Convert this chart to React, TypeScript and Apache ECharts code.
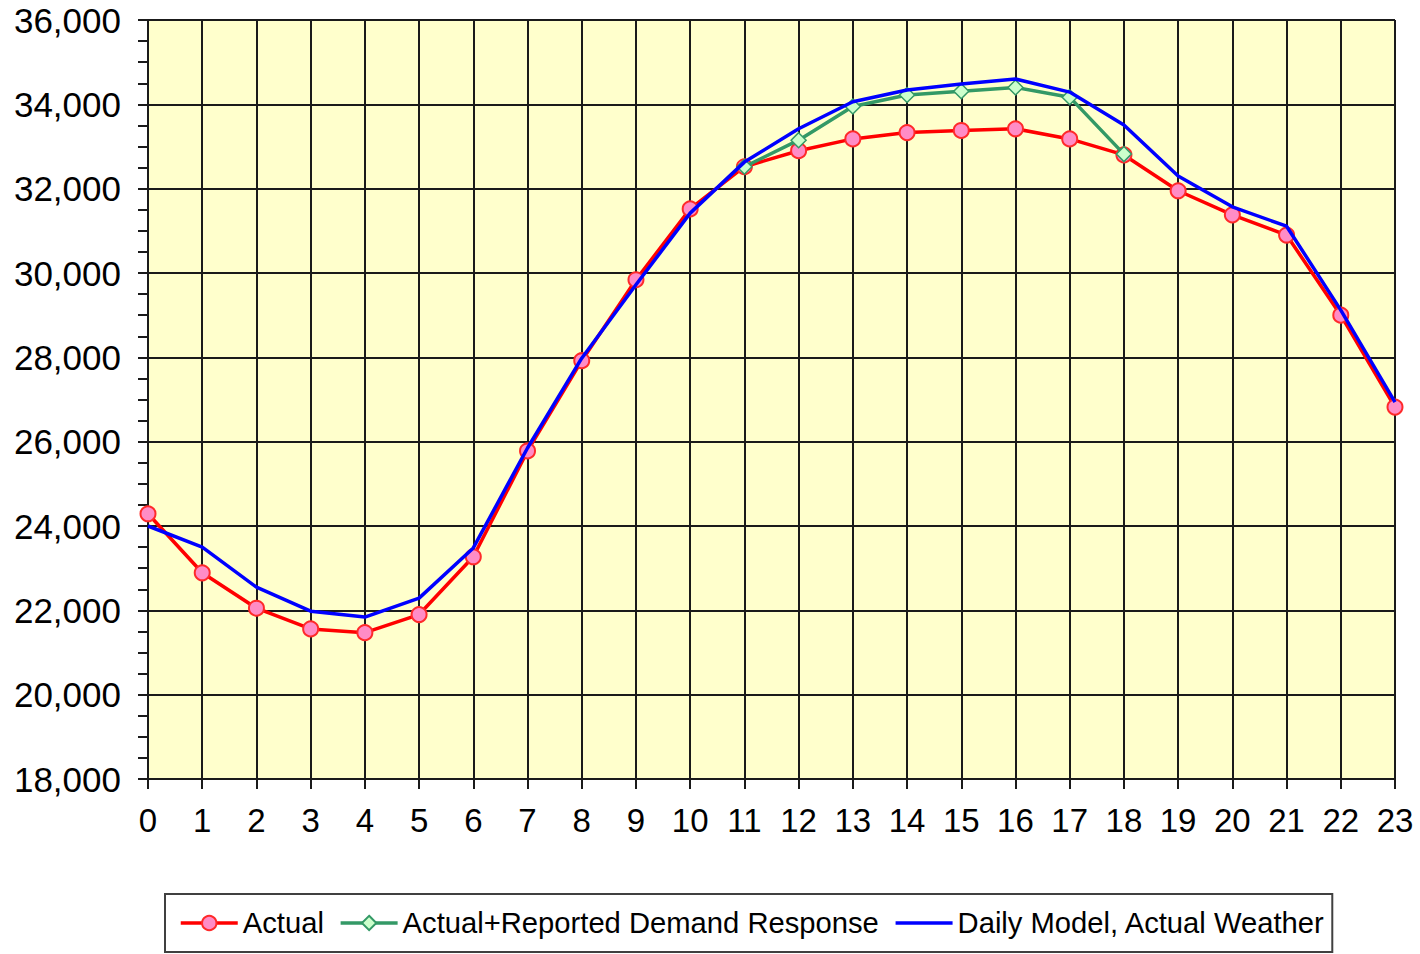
import React, { useEffect, useRef } from "react";
import * as echarts from "echarts";

const hours = ["0", "1", "2", "3", "4", "5", "6", "7", "8", "9", "10", "11", "12", "13", "14", "15", "16", "17", "18", "19", "20", "21", "22", "23"];

const actual = [24290, 22890, 22050, 21560, 21470, 21900, 23270, 25780, 27920, 29840, 31520, 32520, 32900, 33180, 33330, 33380, 33420, 33180, 32800, 31950, 31380, 30900, 29000, 26820];

const actualPlusDR = [null, null, null, null, null, null, null, null, null, null, null, 32520, 33150, 33950, 34220, 34310, 34400, 34170, 32820, null, null, null, null, null];

const dailyModel = [24000, 23500, 22550, 21980, 21840, 22290, 23480, 25850, 27980, 29720, 31420, 32630, 33420, 34060, 34340, 34480, 34600, 34290, 33510, 32300, 31570, 31110, 29120, 26940];

const seriesNames = ["Actual", "Actual+Reported Demand Response", "Daily Model, Actual Weather"];

const FONT = "'Liberation Sans', Arial, sans-serif";

export default function App() {
  const ref = useRef<HTMLDivElement>(null);

  useEffect(() => {
    document.body.style.margin = "0";
    const chart = echarts.init(ref.current!, null, { renderer: "svg" });
    chart.setOption({
      animation: false,
      backgroundColor: "#ffffff",
      textStyle: { fontFamily: FONT, color: "#000" },
      grid: {
        left: 148,
        right: 25,
        top: 20,
        bottom: 175,
        show: true,
        backgroundColor: "#FFFFCC",
        borderWidth: 0,
      },
      legend: {
        left: 165,
        top: 894,
        padding: [14, 7, 14, 14],
        itemGap: 15,
        itemWidth: 57,
        itemHeight: 18,
        borderColor: "#404040",
        borderWidth: 2,
        backgroundColor: "#ffffff",
        lineStyle: { width: 3.5 },
        textStyle: { fontSize: 29.2, fontFamily: FONT, color: "#000", lineHeight: 30 },
        data: [
          { name: seriesNames[0] },
          { name: seriesNames[1] },
          { name: seriesNames[2], itemStyle: { color: "rgba(0,0,0,0)", borderWidth: 0, opacity: 0 } },
        ],
      },
      xAxis: {
        type: "category",
        data: hours,
        boundaryGap: false,
        axisLine: { lineStyle: { color: "#1a1a1a", width: 2 } },
        axisTick: { show: true, length: 10, interval: 0, lineStyle: { color: "#1a1a1a", width: 2 } },
        axisLabel: { interval: 0, fontSize: 33, fontFamily: FONT, color: "#000", margin: 25 },
        splitLine: { show: true, interval: 0, lineStyle: { color: "#1a1a1a", width: 2 } },
      },
      yAxis: {
        type: "value",
        min: 18000,
        max: 36000,
        interval: 2000,
        axisLine: { show: true, lineStyle: { color: "#1a1a1a", width: 2 } },
        axisTick: { show: true, length: 10, lineStyle: { color: "#1a1a1a", width: 2 } },
        minorTick: { show: true, splitNumber: 4, length: 10, lineStyle: { color: "#1a1a1a", width: 2 } },
        axisLabel: {
          fontSize: 35,
          fontFamily: FONT,
          color: "#000",
          margin: 27,
          formatter: (v: number) => v.toLocaleString("en-US"),
        },
        splitLine: { show: true, lineStyle: { color: "#1a1a1a", width: 2 } },
      },
      series: [
        {
          name: seriesNames[0],
          type: "line",
          data: actual,
          symbol: "circle",
          symbolSize: 15,
          showAllSymbol: true,
          lineStyle: { color: "#FF0000", width: 3.5 },
          itemStyle: { color: "#FF8CC6", borderColor: "#FF2a2a", borderWidth: 2 },
          z: 2,
        },
        {
          name: seriesNames[1],
          type: "line",
          data: actualPlusDR,
          symbol: "diamond",
          symbolSize: 15,
          showAllSymbol: true,
          connectNulls: false,
          lineStyle: { color: "#339966", width: 3.5 },
          itemStyle: { color: "#CCFFCC", borderColor: "#339966", borderWidth: 1.5 },
          z: 3,
        },
        {
          name: seriesNames[2],
          type: "line",
          data: dailyModel,
          symbol: "none",
          lineStyle: { color: "#0000FF", width: 3.5 },
          itemStyle: { color: "#0000FF" },
          z: 4,
        },
      ],
    });
    return () => chart.dispose();
  }, []);

  return <div ref={ref} style={{ width: 1420, height: 954 }} />;
}
